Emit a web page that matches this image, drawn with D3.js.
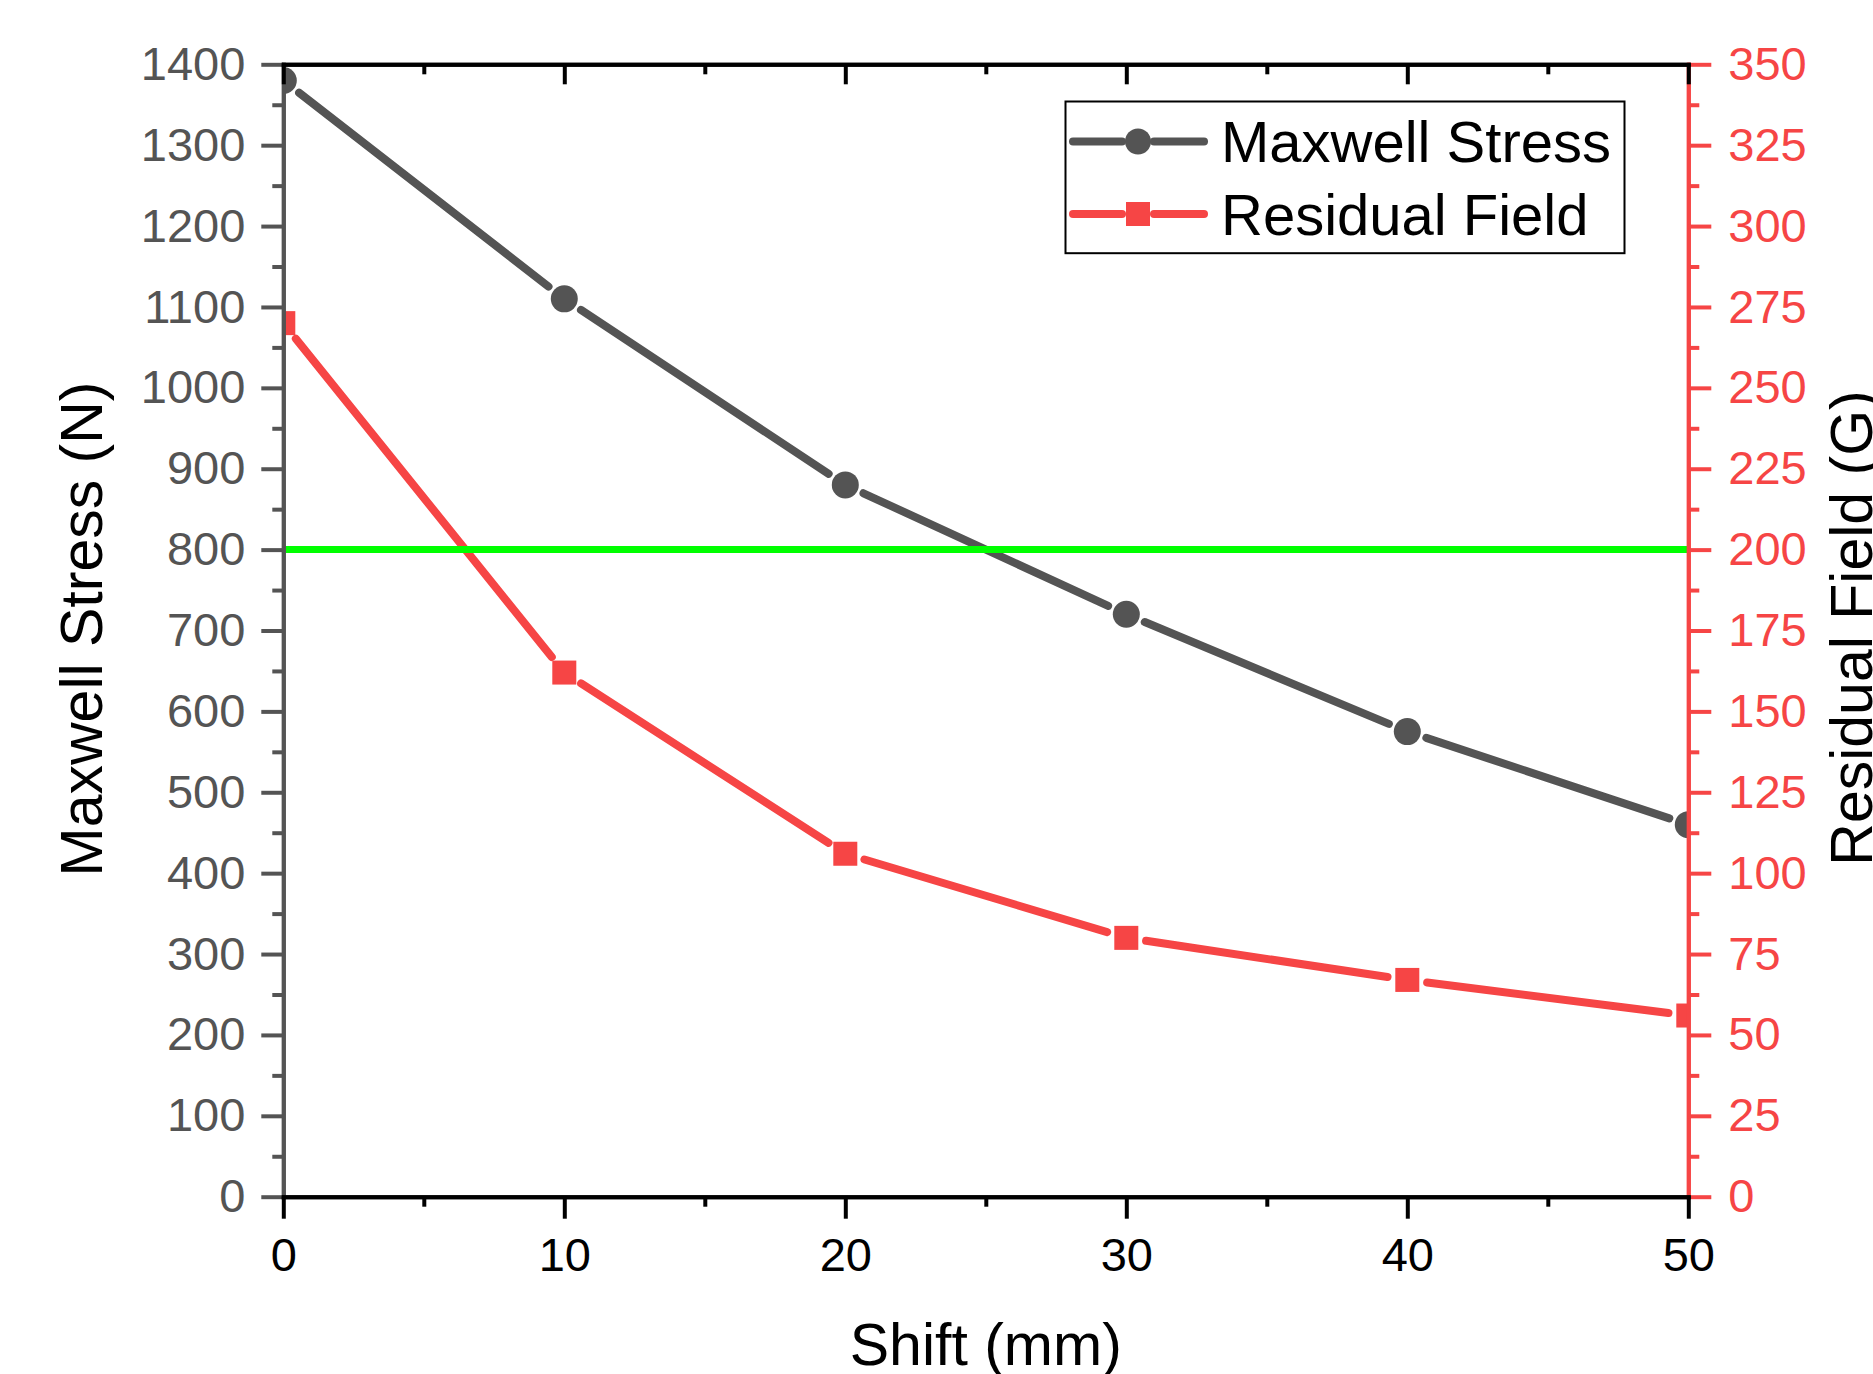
<!DOCTYPE html>
<html>
<head>
<meta charset="utf-8">
<script src="https://cdn.jsdelivr.net/npm/d3@7"></script>
<style>
  html, body { margin: 0; padding: 0; background: #fff; }
  svg { display: block; font-family: "Liberation Sans", Arial, sans-serif; }
</style>
</head>
<body>
<svg id="chart" width="1873" height="1374"></svg>
<script>
// Shift positions (mm)
const shiftMm = [0, 10, 20, 30, 40, 50];
// Maxwell stress (N) at each shift
const maxwellStress = [1380, 1110, 880, 720, 575, 460];
// Residual field (G) at each shift
const residualField = [270, 162, 106, 80, 67, 56];
// Reference level on the stress axis
const stressThreshold = 800;

const xTickValues = [0, 10, 20, 30, 40, 50];
const xMinorValues = [5, 15, 25, 35, 45];
const leftTickValues = d3.range(0, 1401, 100);
const leftMinorValues = d3.range(50, 1400, 100);
const rightTickValues = d3.range(0, 351, 25);
const rightMinorValues = d3.range(12.5, 350, 25);

const seriesNames = ["Maxwell Stress", "Residual Field"];

const GRAY = "#545454";
const RED = "#f64545";
const GREEN = "#00ff00";

const svg = d3.select("#chart");
const W = 1873, H = 1374;
svg.append("rect").attr("width", W).attr("height", H).attr("fill", "#fff");

const plot = { left: 283.3, right: 1688.3, top: 64.3, bottom: 1196.7 };

const x = d3.scaleLinear().domain([0, 50]).range([plot.left, plot.right]);
const yL = d3.scaleLinear().domain([0, 1400]).range([plot.bottom, plot.top]);
const yR = d3.scaleLinear().domain([0, 350]).range([plot.bottom, plot.top]);

// clip region for data marks
svg.append("defs").append("clipPath").attr("id", "plotClip")
  .append("rect")
  .attr("x", plot.left).attr("y", plot.top)
  .attr("width", plot.right - plot.left).attr("height", plot.bottom - plot.top);

const data = shiftMm.map((s, i) => ({ s, stress: maxwellStress[i], field: residualField[i] }));

const marks = svg.append("g").attr("clip-path", "url(#plotClip)");

// line segments with small gaps around symbols
function gappedSegments(g, pts, color, gap) {
  for (let i = 0; i < pts.length - 1; i++) {
    const [x1, y1] = pts[i], [x2, y2] = pts[i + 1];
    const dx = x2 - x1, dy = y2 - y1, len = Math.hypot(dx, dy);
    const ux = dx / len, uy = dy / len;
    g.append("line")
      .attr("x1", x1 + ux * gap).attr("y1", y1 + uy * gap)
      .attr("x2", x2 - ux * gap).attr("y2", y2 - uy * gap)
      .attr("stroke", color).attr("stroke-width", 8)
      .attr("stroke-linecap", "round");
  }
}

const stressPts = data.map(d => [x(d.s), yL(d.stress)]);
const fieldPts = data.map(d => [x(d.s), yR(d.field)]);

gappedSegments(marks, stressPts, GRAY, 20);
marks.selectAll("circle.stress").data(data).join("circle")
  .attr("class", "stress")
  .attr("cx", d => x(d.s)).attr("cy", d => yL(d.stress))
  .attr("r", 13.5).attr("fill", GRAY);

gappedSegments(marks, fieldPts, RED, 20);
marks.selectAll("rect.field").data(data).join("rect")
  .attr("class", "field")
  .attr("x", d => x(d.s) - 12).attr("y", d => yR(d.field) - 12)
  .attr("width", 24).attr("height", 24).attr("fill", RED);

// threshold line
svg.append("line")
  .attr("x1", plot.left).attr("x2", plot.right)
  .attr("y1", yL(stressThreshold)).attr("y2", yL(stressThreshold))
  .attr("stroke", GREEN).attr("stroke-width", 7);

// axes
const plain = d3.format("d");
function styleAxis(g, color) {
  g.selectAll("path.domain").attr("stroke", color).attr("stroke-width", 4).attr("stroke-linecap", "square");
  g.selectAll(".tick line").attr("stroke", color).attr("stroke-width", 4);
  g.selectAll(".tick text").attr("fill", color).attr("font-size", 47)
    .attr("font-family", "'Liberation Sans', Arial, sans-serif");
}

// left axis
const gLeftMinor = svg.append("g").attr("transform", `translate(${plot.left},0)`)
  .call(d3.axisLeft(yL).tickValues(leftMinorValues).tickSize(11).tickSizeOuter(0).tickFormat(""));
styleAxis(gLeftMinor, GRAY);
const gLeft = svg.append("g").attr("transform", `translate(${plot.left},0)`)
  .call(d3.axisLeft(yL).tickValues(leftTickValues).tickSize(22).tickSizeOuter(0).tickPadding(16).tickFormat(plain));
styleAxis(gLeft, GRAY);

// right axis
const gRightMinor = svg.append("g").attr("transform", `translate(${plot.right},0)`)
  .call(d3.axisRight(yR).tickValues(rightMinorValues).tickSize(11).tickSizeOuter(0).tickFormat(""));
styleAxis(gRightMinor, RED);
const gRight = svg.append("g").attr("transform", `translate(${plot.right},0)`)
  .call(d3.axisRight(yR).tickValues(rightTickValues).tickSize(23).tickSizeOuter(0).tickPadding(17).tickFormat(plain));
styleAxis(gRight, RED);

// top axis (inward ticks, no labels)
const gTopMinor = svg.append("g").attr("transform", `translate(0,${plot.top})`)
  .call(d3.axisTop(x).tickValues(xMinorValues).tickSize(-10).tickSizeOuter(0).tickFormat(""));
styleAxis(gTopMinor, "#000");
const gTop = svg.append("g").attr("transform", `translate(0,${plot.top})`)
  .call(d3.axisTop(x).tickValues(xTickValues).tickSize(-20).tickSizeOuter(0).tickFormat(""));
styleAxis(gTop, "#000");

// bottom axis
const gBottomMinor = svg.append("g").attr("transform", `translate(0,${plot.bottom})`)
  .call(d3.axisBottom(x).tickValues(xMinorValues).tickSize(10).tickSizeOuter(0).tickFormat(""));
styleAxis(gBottomMinor, "#000");
const gBottom = svg.append("g").attr("transform", `translate(0,${plot.bottom})`)
  .call(d3.axisBottom(x).tickValues(xTickValues).tickSize(22).tickSizeOuter(0).tickPadding(19).tickFormat(plain));
styleAxis(gBottom, "#000");

// axis titles
svg.append("text")
  .attr("x", (plot.left + plot.right) / 2).attr("y", 1365)
  .attr("text-anchor", "middle").attr("font-size", 59).attr("fill", "#000")
  .text("Shift (mm)");

svg.append("text")
  .attr("transform", `translate(102,629) rotate(-90)`)
  .attr("text-anchor", "middle").attr("font-size", 59).attr("fill", "#000")
  .text("Maxwell Stress (N)");

svg.append("text")
  .attr("transform", `translate(1872,628) rotate(-90)`)
  .attr("text-anchor", "middle").attr("font-size", 59).attr("fill", "#000")
  .text("Residual Field (G)");

// legend
const legend = svg.append("g");
legend.append("rect")
  .attr("x", 1065.5).attr("y", 101.5).attr("width", 559).attr("height", 151.7)
  .attr("fill", "#fff").attr("stroke", "#000").attr("stroke-width", 2);

const legendRows = [
  { name: seriesNames[0], color: GRAY, symbol: "circle", y: 141.5, baseline: 162 },
  { name: seriesNames[1], color: RED, symbol: "square", y: 214, baseline: 234.5 }
];
legendRows.forEach(r => {
  [[1073, 1122], [1154, 1204]].forEach(([a, b]) => {
    legend.append("line").attr("x1", a).attr("x2", b).attr("y1", r.y).attr("y2", r.y)
      .attr("stroke", r.color).attr("stroke-width", 8).attr("stroke-linecap", "round");
  });
  if (r.symbol === "circle") {
    legend.append("circle").attr("cx", 1138).attr("cy", r.y).attr("r", 13).attr("fill", r.color);
  } else {
    legend.append("rect").attr("x", 1138 - 12).attr("y", r.y - 12)
      .attr("width", 24).attr("height", 24).attr("fill", r.color);
  }
  legend.append("text").attr("x", 1221).attr("y", r.baseline)
    .attr("font-size", 58).attr("fill", "#000").text(r.name);
});
</script>
</body>
</html>
